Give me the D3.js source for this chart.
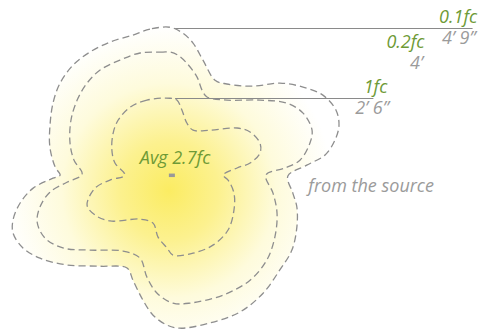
<!DOCTYPE html>
<html><head><meta charset="utf-8">
<script src="https://cdn.jsdelivr.net/npm/d3@7"></script>
<style>
html,body{margin:0;padding:0;background:#fff;}
svg{display:block;}
text{font-family:"Open Sans","Noto Sans",sans-serif;font-style:italic;}
</style></head>
<body>
<svg id="chart" width="480" height="331"></svg>
<script>
// Isolux contours, coordinates in feet relative to the light source (y up)
const outerContour = [[-0.06,4.77],[-0.71,4.71],[-1.26,4.52],[-2.00,4.29],[-2.65,3.97],[-3.19,3.55],[-3.61,2.97],[-3.84,2.32],[-3.94,1.55],[-3.94,0.90],[-3.77,0.26],[-3.61,0],[-3.84,-0.10],[-4.48,-0.42],[-4.90,-0.90],[-5.13,-1.45],[-5.13,-1.87],[-4.81,-2.35],[-4.26,-2.68],[-3.39,-2.90],[-2.32,-2.94],[-1.45,-3.00],[-1.26,-3.39],[-0.94,-4.03],[-0.61,-4.52],[-0.16,-4.84],[0.26,-4.94],[1.23,-4.77],[2.19,-4.42],[2.94,-3.81],[3.48,-3.06],[3.87,-2.42],[4.03,-1.68],[4.03,-1.03],[3.90,-0.58],[3.74,-0.03],[4.35,0.32],[4.94,0.65],[5.26,1.13],[5.39,1.61],[5.29,2.10],[4.87,2.58],[4.23,2.84],[3.48,2.97],[2.61,2.87],[1.77,2.94],[1.39,3.06],[1.00,3.71],[0.68,4.26],[0.35,4.58]];
const middleContour = [[-0.06,3.97],[-0.29,3.97],[-1.03,3.94],[-1.68,3.71],[-2.32,3.39],[-2.74,2.97],[-3.06,2.42],[-3.26,1.77],[-3.29,1.03],[-3.16,0.48],[-2.90,0.03],[-3.39,-0.23],[-3.94,-0.55],[-4.26,-1.03],[-4.35,-1.52],[-4.10,-2.03],[-3.52,-2.35],[-2.65,-2.42],[-1.58,-2.45],[-1.03,-2.68],[-0.81,-3.29],[-0.48,-3.81],[0.03,-4.13],[0.58,-4.13],[1.65,-3.87],[2.52,-3.39],[3.06,-2.74],[3.32,-2.00],[3.39,-1.23],[3.26,-0.58],[3.03,0],[3.65,0.23],[4.13,0.48],[4.45,1.03],[4.52,1.45],[4.23,2.00],[3.71,2.32],[2.84,2.42],[1.77,2.42],[1.13,2.52],[0.97,2.74],[0.81,3.16],[0.48,3.61],[0.19,3.87]];
const innerContour = [[-0.06,2.48],[-0.81,2.42],[-1.35,2.19],[-1.74,1.77],[-1.90,1.35],[-1.94,0.81],[-1.84,0.39],[-1.52,0],[-2.00,-0.16],[-2.48,-0.42],[-2.74,-0.97],[-2.48,-1.29],[-2.00,-1.48],[-1.03,-1.42],[-0.61,-1.55],[-0.45,-2.00],[-0.16,-2.35],[0.03,-2.58],[0.68,-2.52],[1.32,-2.26],[1.81,-1.77],[2.00,-1.13],[2.00,-0.58],[1.81,-0.16],[1.65,0],[2.10,0.23],[2.52,0.39],[2.84,0.71],[2.84,1.03],[2.52,1.39],[2.10,1.52],[1.23,1.45],[0.68,1.45],[0.48,1.68],[0.32,2.10],[0.16,2.42]];

const levelLabels = ["0.1fc","0.2fc","1fc"];
const distanceLabels = ["4\u2019 9\u201D","4\u2019","2\u2019 6\u201D"];
const distanceFeet = [4.75, 4, 2.5];
const avgLabel = "Avg 2.7fc";
const sourceLabel = "from the source";

const svg = d3.select("#chart");
const W = 480, H = 331;
// 1 ft ≈ 31 px, source at (172,175)
const x = d3.scaleLinear().domain([-5.55, 9.94]).range([0, W]);
const y = d3.scaleLinear().domain([5.65, -5.03]).range([0, H]);

const green = "#6e9a36", gray = "#9b9b9b", dashCol = "#8e8e8e";
const FS = 18;

const defs = svg.append("defs");
const grad = defs.append("radialGradient").attr("id","glow")
  .attr("gradientUnits","userSpaceOnUse")
  .attr("cx", x(-0.1)).attr("cy", y(-0.5)).attr("r", 165);
grad.append("stop").attr("offset","0").attr("stop-color","#fbec62");
grad.append("stop").attr("offset","0.3").attr("stop-color","#fcf18f");
grad.append("stop").attr("offset","0.65").attr("stop-color","#fefbdc");
grad.append("stop").attr("offset","1").attr("stop-color","#ffffff");

const line = d3.line().x(d=>x(d[0])).y(d=>y(d[1])).curve(d3.curveCatmullRomClosed.alpha(0.5));

svg.append("path").attr("d", line(outerContour)).attr("fill","url(#glow)").attr("stroke","none");

// leader lines
const leaderEnds = [9.7, null, 6.5];
distanceFeet.forEach((f,i)=>{
  if(leaderEnds[i]===null) return;
  svg.append("line").attr("x1", x(0.1)).attr("x2", x(leaderEnds[i]))
    .attr("y1", Math.round(y(f))+0.5).attr("y2", Math.round(y(f))+0.5)
    .attr("stroke","#8a8a8a").attr("stroke-width",1);
});

[outerContour, middleContour, innerContour].forEach(c=>{
  svg.append("path").attr("d", line(c)).attr("fill","none")
    .attr("stroke", dashCol).attr("stroke-width",1.3).attr("stroke-dasharray","7,4");
});

// labels
const labelEnds = [9.85, 8.15, 6.95];
const distEnds = [9.8, 8.1, 7.0];
const labelFeet = [4.75, 3.95, 2.5];
levelLabels.forEach((t,i)=>{
  svg.append("text").attr("x", x(labelEnds[i])).attr("y", y(labelFeet[i]) - 5)
    .attr("text-anchor","end").attr("font-size",FS).attr("fill",green).text(t);
  svg.append("text").attr("x", x(distEnds[i])).attr("y", y(labelFeet[i]) + 16)
    .attr("text-anchor","end").attr("font-size",FS).attr("fill",gray).text(distanceLabels[i]);
});

svg.append("text").attr("x", x(0.1)).attr("y", y(0.35)).attr("text-anchor","middle")
  .attr("font-size",FS).attr("fill",green).text(avgLabel);
svg.append("rect").attr("x", x(-0.1)).attr("y", y(0.05)).attr("width",6).attr("height",3.5).attr("fill","#999");

svg.append("text").attr("x", x(4.4)).attr("y", y(-0.55)).attr("font-size",FS).attr("fill",gray).text(sourceLabel);
</script>
</body></html>
